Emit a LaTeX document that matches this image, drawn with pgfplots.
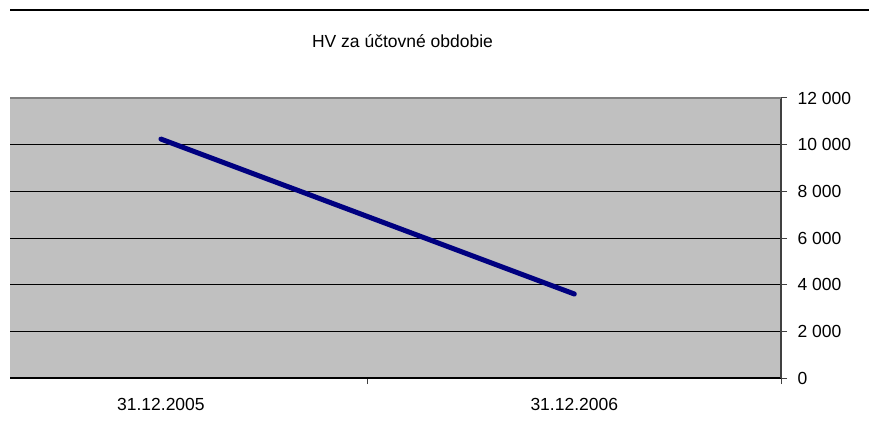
\documentclass[border=0pt]{standalone}
\usepackage{fontspec}
\setmainfont{Liberation Sans}
\usepackage{pgfplots}
\pgfplotsset{compat=1.18}
\definecolor{bggray}{HTML}{C0C0C0}
\definecolor{navyline}{HTML}{000080}
\definecolor{axgray}{HTML}{404040}
\begin{document}
\begin{tikzpicture}
\useasboundingbox[fill=white] (0pt,0pt) rectangle (869pt,434pt);
\draw[line width=1.5pt] (10pt,424pt) -- (869pt,424pt);
\node[font=\fontsize{17.5}{21}\selectfont] at (402.5pt,393pt) {HV za účtovné obdobie};
\begin{axis}[
  at={(10pt,56pt)}, anchor=south west,
  scale only axis, width=771pt, height=280pt,
  xmin=-0.365, xmax=1.5, ymin=0, ymax=12000,
  scaled y ticks=false,
  axis x line*=bottom, axis y line*=right,
  x axis line style={-, black, line width=1.2pt},
  y axis line style={-, axgray, line width=1.2pt},
  axis background/.style={fill=bggray},
  tick align=outside, major tick length=6pt,
  tick style={axgray, line width=1pt},
  xtick={0.5,1.5}, xticklabels={},
  extra x ticks={0,1}, extra x tick labels={31.12.2005,31.12.2006},
  extra x tick style={major tick length=0pt, xticklabel style={yshift=-17pt}},
  ytick={0,2000,4000,6000,8000,10000},
  yticklabels={0,2 000,4 000,6 000,8 000,10 000},
  yticklabel style={xshift=7pt},
  extra y ticks={12000}, extra y tick labels={12 000},
  extra y tick style={grid style={gray, line width=1.5pt}},
  ymajorgrids, grid style={black, line width=0.9pt},
  ticklabel style={font=\fontsize{17.5}{21}\selectfont},
]
\addplot[navyline, line width=5pt, line cap=round] coordinates {(0,10240) (1,3600)};
\end{axis}
\end{tikzpicture}
\end{document}
